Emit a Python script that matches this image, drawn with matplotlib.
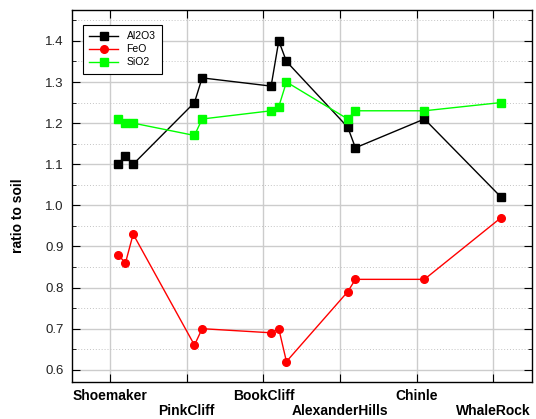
import numpy as np
import matplotlib
matplotlib.use("Agg")
import matplotlib.pyplot as plt
from matplotlib.ticker import MultipleLocator

plt.rcParams['font.family'] = ['Liberation Sans', 'DejaVu Sans']

sites = ['Shoemaker', 'PinkCliff', 'BookCliff', 'AlexanderHills', 'Chinle', 'WhaleRock']
site_pos = [1, 2, 3, 4, 5, 6]

# sample positions (site index + offset within site)
x = [1.1, 1.2, 1.3, 2.1, 2.2, 3.1, 3.2, 3.3, 4.1, 4.2, 5.1, 6.1]
al2o3 = [1.10, 1.12, 1.10, 1.25, 1.31, 1.29, 1.40, 1.35, 1.19, 1.14, 1.21, 1.02]
feo = [0.88, 0.86, 0.93, 0.66, 0.70, 0.69, 0.70, 0.62, 0.79, 0.82, 0.82, 0.97]
sio2 = [1.21, 1.20, 1.20, 1.17, 1.21, 1.23, 1.24, 1.30, 1.21, 1.23, 1.23, 1.25]

fig = plt.figure(figsize=(5.36, 4.19), dpi=100)
ax = fig.add_axes([0.134, 0.088, 0.858, 0.888])

ax.plot(x, al2o3, '-s', color='black', lw=1.0, ms=6, label='Al2O3', zorder=3)
ax.plot(x, feo, '-o', color='#ff0000', lw=1.0, ms=5.5, label='FeO', zorder=3)
ax.plot(x, sio2, '-s', color='#00ff00', lw=1.0, ms=6, label='SiO2', zorder=3)

ax.set_xlim(0.5, 6.5)
ax.set_ylim(0.57, 1.475)

ax.set_xticks(site_pos)
ax.set_xticklabels([s if i % 2 == 0 else '\n' + s for i, s in enumerate(sites)],
                   fontweight='bold', fontsize=10)
for lab in ax.get_xticklabels():
    lab.set_linespacing(1.05)
ax.yaxis.set_major_locator(MultipleLocator(0.1))
ax.yaxis.set_minor_locator(MultipleLocator(0.05))
ax.yaxis.set_major_formatter(plt.FormatStrFormatter('%.1f'))

ax.tick_params(axis='both', which='both', direction='in', top=True, right=True)
ax.tick_params(axis='x', which='major', length=6, pad=5, labelsize=10)
ax.tick_params(axis='y', which='major', length=6, pad=6, labelsize=9.5, labelcolor='#222222')
ax.tick_params(axis='y', which='minor', length=3)

ax.grid(True, which='major', color='#cccccc', lw=1.0, zorder=0)
ax.grid(True, which='minor', axis='y', color='#c4c4c4', lw=0.7, ls=(0, (1, 2)), zorder=0)
ax.set_axisbelow(True)

for sp in ax.spines.values():
    sp.set_linewidth(1.0)

ax.set_ylabel('ratio to soil', fontweight='bold', fontsize=10)
ax.yaxis.set_label_coords(-0.102, 0.446)

leg = ax.legend(loc='upper left', bbox_to_anchor=(0.024, 0.96), borderaxespad=0,
                fontsize=7.5, handlelength=2.8, fancybox=False, edgecolor='black',
                framealpha=1, borderpad=0.6, labelspacing=0.3)
leg.get_frame().set_linewidth(0.8)

fig.savefig('out.png', dpi=100)
